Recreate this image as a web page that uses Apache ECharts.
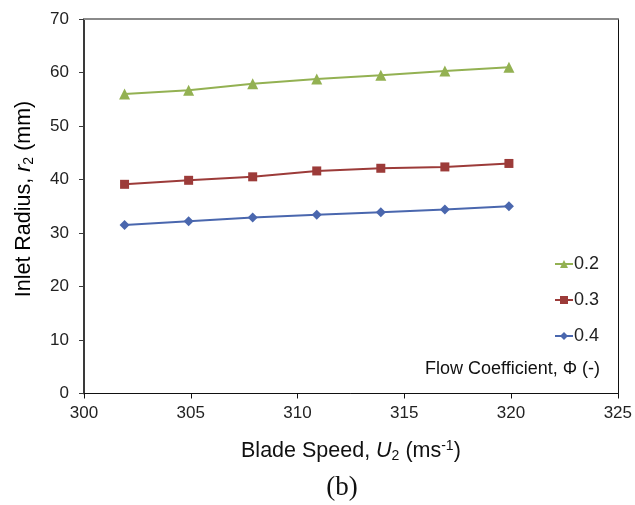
<!DOCTYPE html>
<html>
<head>
<meta charset="utf-8">
<script src="https://cdn.jsdelivr.net/npm/echarts@6/dist/echarts.min.js"></script>
<style>
  html, body { margin: 0; padding: 0; background: #fff; }
  #chart { width: 635px; height: 505px; }
</style>
</head>
<body>
<div id="chart"></div>
<script>
// Blade speed U2 (m/s) at each design point
const bladeSpeed = [301.9, 304.9, 307.9, 310.9, 313.9, 316.9, 319.9];
// Inlet radius r2 (mm) for each flow coefficient
const radiusPhi02 = [56.0, 56.7, 57.9, 58.8, 59.5, 60.3, 61.0];
const radiusPhi03 = [39.1, 39.85, 40.5, 41.6, 42.1, 42.35, 43.0];
const radiusPhi04 = [31.5, 32.2, 32.9, 33.4, 33.9, 34.4, 35.0];
const seriesNames = ['0.2', '0.3', '0.4'];

const pairs = (ys) => bladeSpeed.map((x, i) => [x, ys[i]]);

const FONT = 'Liberation Sans, Arial, sans-serif';
const TITLE_SIZE = 21.5;
const SUB_SIZE = 14;

const titleRich = {
  a: { fontFamily: FONT, fontSize: TITLE_SIZE, color: '#111' },
  i: { fontFamily: FONT, fontSize: TITLE_SIZE, fontStyle: 'italic', color: '#111' },
  s: { fontFamily: FONT, fontSize: SUB_SIZE, color: '#111', verticalAlign: 'bottom', padding: [10, 0, 0, 0] },
  p: { fontFamily: FONT, fontSize: SUB_SIZE, color: '#111', verticalAlign: 'top', padding: [0, 0, 8, 0] }
};

const chart = echarts.init(document.getElementById('chart'), null, { renderer: 'canvas' });

chart.setOption({
  animation: false,
  backgroundColor: '#fff',
  grid: { left: 84, right: 16, top: 19, bottom: 111.5, containLabel: false },
  legend: {
    orient: 'vertical',
    right: 31,
    top: 250,
    itemWidth: 18,
    itemHeight: 10,
    itemGap: 18,
    data: seriesNames,
    textStyle: { fontFamily: FONT, fontSize: 18, color: '#222', padding: [0, 0, 0, -4] }
  },
  xAxis: [{
    type: 'value',
    min: 300, max: 325, interval: 5,
    position: 'bottom',
    name: '{a|Blade Speed, }{i|U}{s|2}{a| (ms}{p|-1}{a|)}',
    nameLocation: 'middle',
    nameGap: 46,
    nameTextStyle: { rich: titleRich },
    axisLine: { show: true, lineStyle: { color: '#111', width: 1 } },
    axisTick: { show: true, length: 5, lineStyle: { color: '#111', width: 1 } },
    axisLabel: { fontFamily: FONT, fontSize: 17, color: '#222', margin: 11 },
    splitLine: { show: false }
  }, {
    type: 'value',
    min: 300, max: 325,
    position: 'top',
    axisLine: { show: true, onZero: false, lineStyle: { color: '#8a8a8a', width: 2 } },
    axisTick: { show: false },
    axisLabel: { show: false },
    splitLine: { show: false }
  }],
  yAxis: [{
    type: 'value',
    min: 0, max: 70, interval: 10,
    position: 'left',
    axisLine: { show: true, lineStyle: { color: '#3a3a3a', width: 2 } },
    axisTick: { show: true, length: 5, lineStyle: { color: '#3a3a3a', width: 1 } },
    axisLabel: { fontFamily: FONT, fontSize: 17, color: '#222', margin: 15 },
    splitLine: { show: false }
  }, {
    type: 'value',
    min: 0, max: 70,
    position: 'right',
    axisLine: { show: true, onZero: false, lineStyle: { color: '#111', width: 1 } },
    axisTick: { show: false },
    axisLabel: { show: false },
    splitLine: { show: false }
  }],
  series: [{
    name: seriesNames[0],
    type: 'line',
    data: pairs(radiusPhi02),
    symbol: 'triangle',
    symbolSize: 11,
    lineStyle: { color: '#93B152', width: 2 },
    itemStyle: { color: '#93B152' }
  }, {
    name: seriesNames[1],
    type: 'line',
    data: pairs(radiusPhi03),
    symbol: 'rect',
    symbolSize: 9,
    lineStyle: { color: '#9C3B39', width: 2 },
    itemStyle: { color: '#9C3B39' }
  }, {
    name: seriesNames[2],
    type: 'line',
    data: pairs(radiusPhi04),
    symbol: 'diamond',
    symbolSize: 10,
    lineStyle: { color: '#4A67AE', width: 2 },
    itemStyle: { color: '#4A67AE' }
  }],
  graphic: [{
    // vertical axis title
    type: 'text',
    x: 24,
    y: 199,
    rotation: Math.PI / 2,
    style: {
      text: '{a|Inlet Radius, }{i|r}{s|2}{a| (mm)}',
      rich: titleRich,
      align: 'center',
      verticalAlign: 'middle'
    }
  }, {
    type: 'text',
    right: 35,
    top: 360,
    style: { text: 'Flow Coefficient, Φ (-)', fontFamily: FONT, fontSize: 18, fill: '#111' }
  }, {
    type: 'text',
    x: 342,
    y: 488,
    style: {
      text: '(b)',
      fontFamily: 'Liberation Serif, DejaVu Serif, serif',
      fontSize: 27,
      fill: '#111',
      align: 'center',
      verticalAlign: 'middle'
    }
  }]
});
</script>
</body>
</html>
